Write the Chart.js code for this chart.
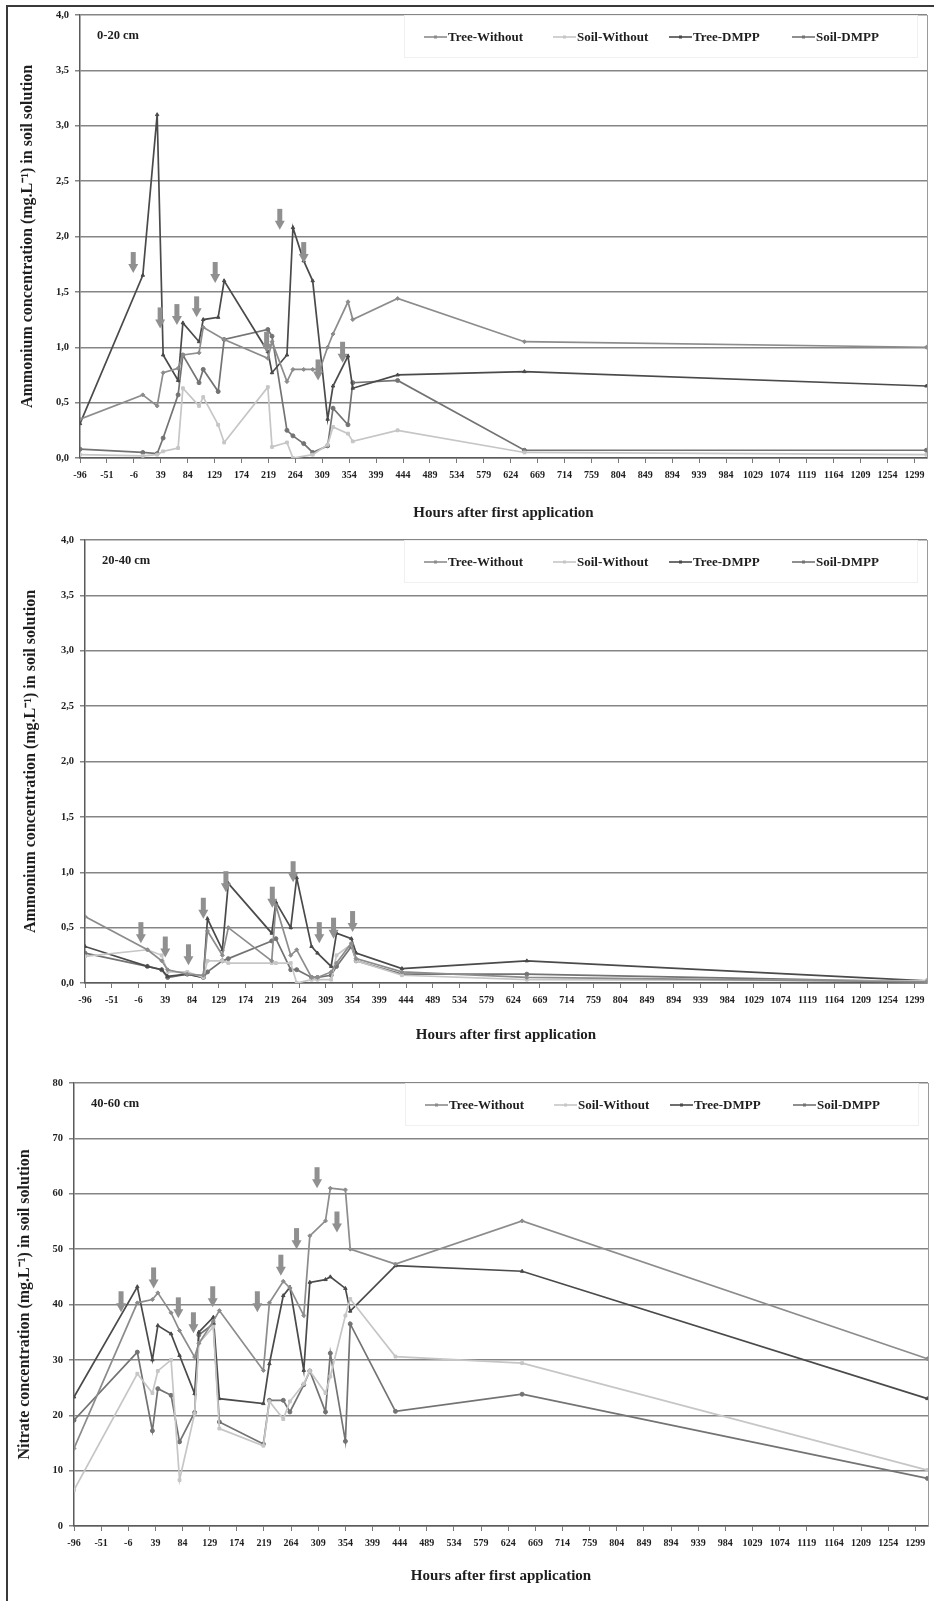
<!DOCTYPE html>
<html lang="en">
<head>
<meta charset="utf-8">
<title>Ammonium and nitrate concentration in soil solution</title>
<script src="https://cdn.jsdelivr.net/npm/chart.js"></script>
<style>
  html, body { margin: 0; padding: 0; background: #fff; }
  body { width: 934px; height: 1601px; position: relative; overflow: hidden; }
  #frame {
    position: absolute; left: 6px; top: 5px; right: -10px; bottom: -10px;
    border-left: 2px solid #3a3a3a; border-top: 2px solid #3a3a3a;
  }
  canvas { position: absolute; left: 0; }
</style>
</head>
<body>
<div id="frame"></div>
<canvas id="c1" width="934" height="522" style="top:0px"></canvas>
<canvas id="c2" width="934" height="519" style="top:525px"></canvas>
<canvas id="c3" width="934" height="517" style="top:1068px"></canvas>

<script>
// series shared by the three panels
var seriesNames = ['Tree-Without', 'Soil-Without', 'Tree-DMPP', 'Soil-DMPP'];
var xTicks = [-96, -51, -6, 39, 84, 129, 174, 219, 264, 309, 354, 399, 444, 489, 534, 579,
              624, 669, 714, 759, 804, 849, 894, 939, 984, 1029, 1074, 1119, 1164, 1209, 1254, 1299];

// 0-20 cm, ammonium
var hours1 = [-96, 9, 33, 43, 68, 76, 103, 110, 135, 145, 218, 225, 250, 260, 278, 293, 305, 318, 327, 352, 360, 435, 647, 1319];
var treeWithout1 = [0.35, 0.57, 0.47, 0.77, 0.81, 0.93, 0.95, 1.18, null, 1.07, 0.90, 1.05, 0.69, 0.80, 0.80, 0.80, 0.80, 1.00, 1.12, 1.41, 1.25, 1.44, 1.05, 1.00];
var soilWithout1 = [0.03, 0.02, 0.03, 0.06, 0.09, 0.63, 0.47, 0.55, 0.30, 0.14, 0.64, 0.10, 0.14, 0.00, null, 0.03, null, 0.12, 0.28, 0.22, 0.15, 0.25, 0.05, 0.03];
var treeDmpp1 = [0.31, 1.65, 3.10, 0.93, 0.70, 1.22, 1.05, 1.25, 1.27, 1.60, 0.96, 0.77, 0.93, 2.08, 1.78, 1.60, null, 0.35, 0.65, 0.92, 0.63, 0.75, 0.78, 0.65];
var soilDmpp1 = [0.08, 0.05, 0.04, 0.18, 0.57, 0.93, 0.68, 0.80, 0.60, 1.07, 1.16, 1.10, 0.25, 0.20, 0.13, 0.05, null, 0.11, 0.45, 0.30, 0.68, 0.70, 0.07, 0.07];
var arrowHours1 = [-7, 38, 66, 99, 130, 216, 238, 278, 302, 343];
var arrowTips1 = [1.67, 1.17, 1.20, 1.27, 1.58, 0.95, 2.06, 1.76, 0.70, 0.86];

// 20-40 cm, ammonium
var hours2 = [-96, 9, 33, 43, 76, 103, 110, 135, 145, 218, 225, 250, 260, 285, 295, 318, 327, 352, 360, 437, 647, 1319];
var treeWithout2 = [0.60, 0.30, 0.20, 0.12, 0.08, 0.07, 0.47, 0.25, 0.50, 0.20, 0.70, 0.25, 0.30, 0.05, 0.05, 0.10, 0.18, 0.36, 0.22, 0.10, 0.05, 0.01];
var soilWithout2 = [0.24, 0.30, 0.25, 0.10, 0.10, 0.05, 0.20, 0.20, 0.18, 0.18, 0.18, 0.18, 0.00, 0.03, 0.03, 0.03, 0.25, 0.35, 0.20, 0.07, 0.03, 0.02];
var treeDmpp2 = [0.33, 0.15, 0.12, 0.06, 0.08, 0.05, 0.58, 0.30, 0.90, 0.45, 0.73, 0.50, 0.95, 0.33, 0.27, 0.15, 0.45, 0.40, 0.27, 0.13, 0.20, 0.02];
var soilDmpp2 = [0.27, 0.15, 0.12, 0.05, 0.08, 0.05, 0.10, 0.20, 0.22, 0.38, 0.40, 0.12, 0.12, 0.05, 0.05, 0.07, 0.15, 0.33, 0.20, 0.08, 0.08, 0.01];
var arrowHours2 = [-2, 39, 78, 103, 141, 219, 254, 298, 322, 354];
var arrowTips2 = [0.36, 0.23, 0.16, 0.58, 0.82, 0.68, 0.91, 0.36, 0.40, 0.46];

// 40-60 cm, nitrate
var hours3 = [-96, 9, 34, 43, 65, 79, 104, 111, 135, 145, 218, 228, 251, 262, 285, 295, 321, 329, 354, 362, 437, 647, 1319];
var treeWithout3 = [14.0, 40.3, 40.9, 42.1, 38.5, 35.3, 30.5, 33.0, 37.0, 38.9, 28.1, 40.3, 44.2, 43.0, 38.0, 52.4, 55.1, 61.0, 60.7, 50.0, 47.3, 55.1, 30.2];
var soilWithout3 = [6.5, 27.5, 24.0, 28.0, 30.0, 8.3, 20.3, 33.0, 36.0, 17.6, 14.5, 22.5, 19.3, 22.5, 25.7, 28.0, 24.0, 27.0, 38.0, 41.0, 30.6, 29.4, 10.1];
var treeDmpp3 = [23.3, 43.2, 30.0, 36.2, 34.7, 30.8, 23.9, 35.0, 37.7, 23.0, 22.1, 29.3, 41.6, 43.1, 28.1, 44.0, 44.5, 45.0, 42.9, 38.8, 47.0, 46.0, 23.0];
var soilDmpp3 = [19.1, 31.4, 17.2, 24.8, 23.6, 15.2, 20.5, 34.5, 36.5, 18.8, 14.8, 22.7, 22.7, 20.6, 25.5, 28.0, 20.6, 31.2, 15.3, 36.5, 20.7, 23.8, 8.6];
var arrowHours3 = [-18, 36, 77, 102, 134, 208, 247, 273, 307, 340];
var arrowTips3 = [38.6, 42.9, 37.5, 34.8, 39.5, 38.6, 45.2, 50.0, 61.0, 53.0];

var seriesColors = ['#8c8c8c', '#c6c6c6', '#4a4a4a', '#737373'];
var seriesMarkers = ['rectRot', 'rect', 'triangle', 'circle'];
var serif = '"Liberation Serif", "Times New Roman", serif';

Chart.defaults.font.family = serif;
Chart.defaults.font.weight = 'bold';
Chart.defaults.color = '#1e1e1e';

// frame, depth label, legend and the application arrows
var decorPlugin = {
    id: 'decor',
    afterDatasetsDraw: function (chart, args, opts) {
        var ctx = chart.ctx, xs = chart.scales.x, ys = chart.scales.y;
        ctx.save();
        ctx.fillStyle = '#909090';
        for (var i = 0; i < opts.arrowHours.length; i++) {
            var x = xs.getPixelForValue(opts.arrowHours[i]);
            var y = ys.getPixelForValue(opts.arrowTips[i]);
            ctx.fillRect(x - 2.5, y - 21, 5, 13);
            ctx.beginPath();
            ctx.moveTo(x - 5, y - 9);
            ctx.lineTo(x + 5, y - 9);
            ctx.lineTo(x, y);
            ctx.closePath();
            ctx.fill();
        }
        ctx.restore();
    },
    afterDraw: function (chart, args, opts) {
        var ctx = chart.ctx, a = chart.chartArea;
        ctx.save();
        // right edge of plot area
        ctx.strokeStyle = '#9a9a9a';
        ctx.lineWidth = 1;
        ctx.beginPath();
        ctx.moveTo(a.right + 0.5, a.top);
        ctx.lineTo(a.right + 0.5, a.bottom);
        ctx.stroke();

        // depth label
        ctx.fillStyle = '#1e1e1e';
        ctx.font = 'bold 12.5px ' + serif;
        ctx.textBaseline = 'middle';
        ctx.textAlign = 'left';
        ctx.fillText(opts.depth, a.left + 17, a.top + 21);

        // legend
        ctx.strokeStyle = '#f0f0f0';
        ctx.strokeRect(a.right - 522.5, a.top + 0.5, 513, 42);
        var offs = [503, 374, 258, 135];
        chart.data.datasets.forEach(function (ds, i) {
            var x0 = a.right - offs[i], y0 = a.top + 22;
            ctx.strokeStyle = ds.borderColor;
            ctx.lineWidth = 1.6;
            ctx.beginPath();
            ctx.moveTo(x0, y0);
            ctx.lineTo(x0 + 23, y0);
            ctx.stroke();
            ctx.fillStyle = ds.borderColor;
            ctx.fillRect(x0 + 10, y0 - 1.5, 3, 3);
            ctx.fillStyle = '#1e1e1e';
            ctx.font = 'bold 13px ' + serif;
            ctx.fillText(ds.label, x0 + 24, y0 + 0.5);
        });
        ctx.restore();
    }
};

function buildChart(id, p) {
    var datasets = p.series.map(function (vals, i) {
        return {
            label: seriesNames[i],
            data: p.hours.map(function (h, j) { return { x: h, y: vals[j] }; }),
            borderColor: seriesColors[i],
            backgroundColor: seriesColors[i],
            borderWidth: 1.7,
            pointStyle: seriesMarkers[i],
            pointRadius: 2,
            pointBorderWidth: 1,
            tension: 0,
            spanGaps: true,
            fill: false
        };
    });
    return new Chart(document.getElementById(id), {
        type: 'line',
        data: { datasets: datasets },
        options: {
            responsive: false,
            animation: false,
            layout: { padding: { left: p.padLeft, top: 15, right: 934 - p.right, bottom: 0 } },
            plugins: {
                legend: { display: false },
                tooltip: { enabled: false },
                decor: { depth: p.depth, arrowHours: p.arrowHours, arrowTips: p.arrowTips }
            },
            scales: {
                x: {
                    type: 'linear',
                    min: -96,
                    max: 1320,
                    afterBuildTicks: function (s) { s.ticks = xTicks.map(function (v) { return { value: v }; }); },
                    afterFit: function (s) { s.height = p.xHeight; },
                    ticks: {
                        autoSkip: false, maxRotation: 0, padding: 6,
                        font: { size: 10 },
                        callback: function (v) { return String(v); }
                    },
                    grid: { drawOnChartArea: false, tickLength: 5, color: '#777' },
                    border: { color: '#5a5a5a', width: 1.5 },
                    title: { display: true, text: 'Hours after first application', font: { size: 15 }, padding: 0 }
                },
                y: {
                    min: 0,
                    max: p.yMax,
                    afterFit: function (s) { s.width = p.yWidth; },
                    ticks: {
                        stepSize: p.yStep, padding: 6,
                        font: { size: 10.5 },
                        callback: p.yFormat
                    },
                    grid: { color: '#858585', lineWidth: 1.5, tickLength: 5 },
                    border: { color: '#5a5a5a', width: 1.5 },
                    title: { display: true, text: p.yTitle, font: { size: 16 }, padding: 0 }
                }
            }
        },
        plugins: [decorPlugin]
    });
}

function commaOne(v) { return v.toFixed(1).replace('.', ','); }
function plain(v) { return String(v); }

buildChart('c1', {
    hours: hours1,
    series: [treeWithout1, soilWithout1, treeDmpp1, soilDmpp1],
    arrowHours: arrowHours1, arrowTips: arrowTips1,
    depth: '0-20 cm',
    yTitle: 'Ammonium concentration (mg.L\u207B\u00B9) in soil solution',
    yMax: 4, yStep: 0.5, yFormat: commaOne,
    padLeft: 18, yWidth: 62, right: 927, xHeight: 64
});

buildChart('c2', {
    hours: hours2,
    series: [treeWithout2, soilWithout2, treeDmpp2, soilDmpp2],
    arrowHours: arrowHours2, arrowTips: arrowTips2,
    depth: '20-40 cm',
    yTitle: 'Ammonium concentration (mg.L\u207B\u00B9) in soil solution',
    yMax: 4, yStep: 0.5, yFormat: commaOne,
    padLeft: 21, yWidth: 64, right: 927, xHeight: 61
});

buildChart('c3', {
    hours: hours3,
    series: [treeWithout3, soilWithout3, treeDmpp3, soilDmpp3],
    arrowHours: arrowHours3, arrowTips: arrowTips3,
    depth: '40-60 cm',
    yTitle: 'Nitrate concentration (mg.L\u207B\u00B9) in soil solution',
    yMax: 80, yStep: 10, yFormat: plain,
    padLeft: 15, yWidth: 59, right: 928, xHeight: 59
});
</script>
</body>
</html>
